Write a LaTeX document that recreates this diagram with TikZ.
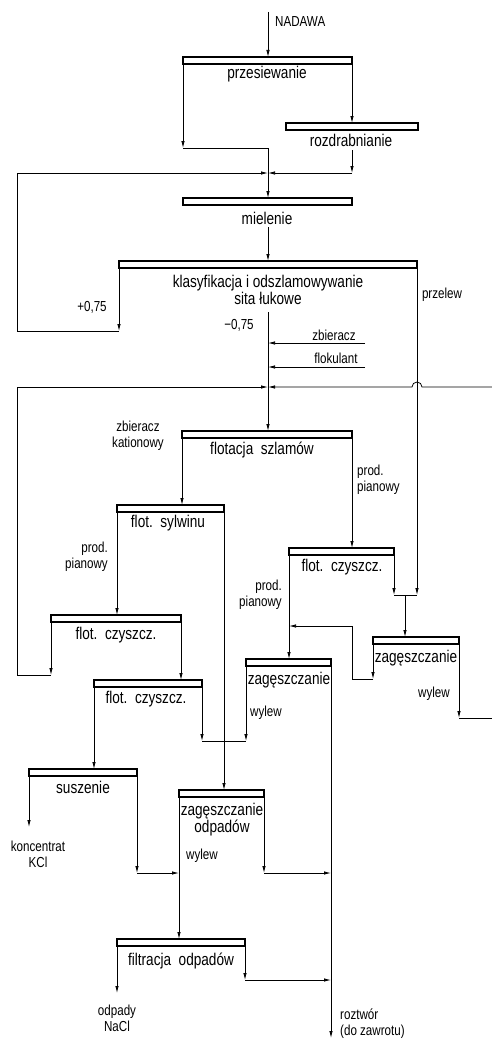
\documentclass[tikz,border=0pt]{standalone}
\usepackage{fontspec}
\setmainfont{Liberation Sans}[FakeStretch=0.8]
\usetikzlibrary{arrows.meta}
\begin{document}
\begin{tikzpicture}[x=1pt,y=-1pt,
  barbox/.style={draw, line width=1.1pt, fill=white, minimum height=7pt, inner sep=0pt, outer sep=0pt, anchor=north west},
  conn/.style={line width=0.75pt},
  arr/.style={conn, -{Latex[length=7pt,width=3.4pt]}},
  lbl/.style={font=\fontsize{17}{15.5}\selectfont, inner sep=0pt, align=center},
  sm/.style={font=\fontsize{14.5}{16}\selectfont, inner sep=0pt, align=center}]
\useasboundingbox (0,0) rectangle (492,1041);

% ---------- bars ----------
\node[barbox, minimum width=169pt] (przes) at (183,57) {};
\node[barbox, minimum width=132pt] (rozdr) at (286,123) {};
\node[barbox, minimum width=169pt] (miel)  at (183,198) {};
\node[barbox, minimum width=298pt] (klas)  at (119,261) {};
\node[barbox, minimum width=170pt] (fszl)  at (182,431) {};
\node[barbox, minimum width=107pt] (fsyl)  at (117,505) {};
\node[barbox, minimum width=130pt] (fcz1)  at (51,615) {};
\node[barbox, minimum width=108pt] (fcz2)  at (94,680) {};
\node[barbox, minimum width=105pt] (fcz3)  at (289,548) {};
\node[barbox, minimum width=85pt]  (zag1)  at (246,659) {};
\node[barbox, minimum width=86pt]  (zag2)  at (373,637) {};
\node[barbox, minimum width=108pt] (susz)  at (29,769) {};
\node[barbox, minimum width=85pt]  (zodp)  at (179,790) {};
\node[barbox, minimum width=128pt] (filt)  at (117,939) {};

% ---------- labels ----------
\node[sm, anchor=west] (tNad) at (275,22) {NADAWA};
\node[lbl] (tPrz) at (267,74) {przesiewanie};
\node[lbl] (tRoz) at (351,140) {rozdrabnianie};
\node[lbl] (tMie) at (267,218) {mielenie};
\node[lbl] (tKla) at (268,289.5) {klasyfikacja i odszlamowywanie\\sita łukowe};
\node[sm] (tP75) at (92,307) {+0,75};
\node[sm] (tM75) at (239,325) {−0,75};
\node[sm] (tPrzel) at (442,295) {przelew};
\node[sm] (tZb) at (334,335) {zbieracz};
\node[sm] (tFlok) at (336,358) {flokulant};
\node[sm] (tZbK) at (138,435.5) {zbieracz\\kationowy};
\node[lbl] (tFsz) at (262,450) {flotacja\ \ szlamów};
\node[sm, anchor=west, align=left] (tPP1) at (357,479.5) {prod.\\pianowy};
\node[lbl] (tFsy) at (168,523) {flot.\ \ sylwinu};
\node[sm, anchor=east, align=right] (tPP2) at (108,556.5) {prod.\\pianowy};
\node[lbl] (tFc3) at (342,567) {flot.\ \ czyszcz.};
\node[sm, anchor=east, align=right] (tPP3) at (282,595) {prod.\\pianowy};
\node[lbl] (tFc1) at (116,635) {flot.\ \ czyszcz.};
\node[lbl] (tZag2) at (416,658) {zagęszczanie};
\node[lbl] (tZag1) at (289,680) {zagęszczanie};
\node[sm] (tWy2) at (434,694) {wylew};
\node[lbl] (tFc2) at (146,699) {flot.\ \ czyszcz.};
\node[sm, anchor=west] (tWy1) at (250,713) {wylew};
\node[lbl] (tSus) at (83,787) {suszenie};
\node[lbl] (tZod) at (222,820) {zagęszczanie\\odpadów};
\node[sm] (tKcl) at (38,854.5) {koncentrat\\KCl};
\node[sm, anchor=west] (tWy3) at (186,856) {wylew};
\node[lbl] (tFil) at (181,961) {filtracja\ \ odpadów};
\node[sm] (tNaCl) at (117,1018.5) {odpady\\NaCl};
\node[sm, anchor=west, align=left] (tRozt) at (340,1023.5) {roztwór\\(do zawrotu)};

% ---------- coordinates ----------
\coordinate (nadTop) at (268,12);
\coordinate (j1) at (268,148);
\coordinate (r1) at (352,150);
\coordinate (j2) at (268,173);
\coordinate (l1) at (17,173);
\coordinate (l2) at (17,331);
\coordinate (m1) at (268,227);
\coordinate (k1) at (268,312);
\coordinate (z1) at (365,343);
\coordinate (z2) at (365,367);
\coordinate (l3) at (17,387);
\coordinate (rr) at (492,387);
\coordinate (l4) at (17,675);
\coordinate (j5) at (405,595);
\coordinate (r2) at (352,679);
\coordinate (r3) at (352,626);
\coordinate (w2) at (492,718);
\coordinate (y741) at (0,741);
\coordinate (s1) at (29,827);
\coordinate (y873) at (0,873);
\coordinate (y980) at (0,980);
\coordinate (f1) at (117,993);
\coordinate (out) at (331,1038);

% ---------- connectors ----------
\draw[arr] (nadTop) -- (nadTop |- przes.north);
\draw[arr] (przes.south west) -- (przes.south west |- j1);
\draw[arr] (przes.south west |- j1) -- (j1) -- (j1 |- miel.north);
\draw[arr] (przes.south east) -- (przes.south east |- rozdr.north);
\draw[arr] (r1) -- (r1 |- j2);
\draw[arr] (r1 |- j2) -- (j2);
\draw[arr] (klas.south west) -- (klas.south west |- l2);
\draw[arr] (klas.south west |- l2) -- (l2) -- (l1) -- (j2);
\draw[arr] (m1) -- (m1 |- klas.north);
\draw[arr] (k1) -- (k1 |- fszl.north);
\draw[arr] (z1) -- (z1 -| k1);
\draw[arr] (z2) -- (z2 -| k1);
\draw[arr] (fcz1.south west) -- (fcz1.south west |- l4);
\draw[arr] (fcz1.south west |- l4) -- (l4) -- (l3) -- (l3 -| k1);
\draw[arr] (rr) -- ([xshift=5pt]klas.south east |- rr) arc[start angle=0, end angle=180, radius=5pt] -- (rr -| k1);
\draw[arr] (klas.south east) -- (klas.south east |- j5);
\draw[arr] (fcz3.south east) -- (fcz3.south east |- j5);
\draw[conn] (fcz3.south east |- j5) -- (klas.south east |- j5);
\draw[arr] (j5) -- (j5 |- zag2.north);
\draw[arr] (fszl.south west) -- (fszl.south west |- fsyl.north);
\draw[arr] (fszl.south east) -- (fszl.south east |- fcz3.north);
\draw[arr] (fsyl.south west) -- (fsyl.south west |- fcz1.north);
\draw[arr] (fsyl.south east) -- (fsyl.south east |- zodp.north);
\draw[arr] (fcz1.south east) -- (fcz1.south east |- fcz2.north);
\draw[arr] (fcz2.south west) -- (fcz2.south west |- susz.north);
\draw[arr] (fcz2.south east) -- (fcz2.south east |- y741);
\draw[arr] (zag1.south west) -- (zag1.south west |- y741);
\draw[conn] (fcz2.south east |- y741) -- (zag1.south west |- y741);
\draw[arr] (fcz3.south west) -- (fcz3.south west |- zag1.north);
\draw[arr] (zag2.south west) -- (zag2.south west |- r2);
\draw[arr] (zag2.south west |- r2) -- (r2) -- (r3) -- (fcz3.south west |- r3);
\draw[arr] (zag2.south east) -- (zag2.south east |- w2);
\draw[conn] (zag2.south east |- w2) -- (w2);
\draw[arr] (zag1.south east) -- (out);
\draw[arr] (susz.south west) -- (s1);
\draw[arr] (susz.south east) -- (susz.south east |- y873);
\draw[arr] (susz.south east |- y873) -- (zodp.south west |- y873);
\draw[arr] (zodp.south west) -- (zodp.south west |- filt.north);
\draw[arr] (zodp.south east) -- (zodp.south east |- y873);
\draw[arr] (zodp.south east |- y873) -- (zag1.south east |- y873);
\draw[arr] (filt.south west) -- (f1);
\draw[arr] (filt.south east) -- (filt.south east |- y980);
\draw[arr] (filt.south east |- y980) -- (zag1.south east |- y980);
\end{tikzpicture}
\end{document}
